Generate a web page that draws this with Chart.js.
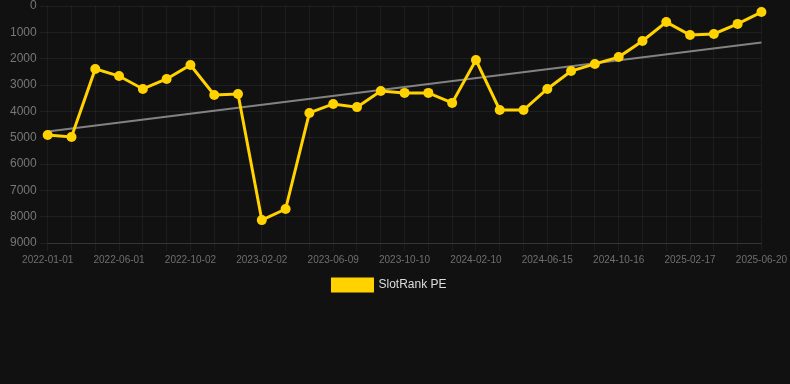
<!DOCTYPE html>
<html>
<head>
<meta charset="utf-8">
<script src="https://cdn.jsdelivr.net/npm/chart.js@4"></script>
<style>
  html, body { margin: 0; padding: 0; background: #111111; }
  #wrap { position: relative; width: 790px; height: 301px; }
</style>
</head>
<body>
<div id="wrap"><canvas id="rankChart"></canvas></div>
<script>
// dates (only every 3rd one is shown on the axis)
var dates = ['2022-01-01', '2022-02-20', '2022-04-11', '2022-06-01', '2022-07-12', '2022-08-22',
  '2022-10-02', '2022-11-12', '2022-12-23', '2023-02-02', '2023-03-15', '2023-04-26',
  '2023-06-09', '2023-07-20', '2023-08-30', '2023-10-10', '2023-11-20', '2023-12-31',
  '2024-02-10', '2024-03-22', '2024-05-04', '2024-06-15', '2024-07-26', '2024-09-05',
  '2024-10-16', '2024-11-26', '2025-01-07', '2025-02-17', '2025-03-30', '2025-05-10', '2025-06-20'];

var rank = [4900, 4975, 2390, 2660, 3150, 2770, 2240, 3380, 3340, 8130, 7710, 4060,
  3720, 3840, 3230, 3300, 3300, 3680, 2050, 3950, 3950, 3150, 2470, 2200,
  1940, 1330, 610, 1100, 1060, 680, 230];

// trend line: start and end values
var trendStart = 4770;
var trendEnd = 1390;

var trend = dates.map(function (d, i) {
  if (i === 0) return trendStart;
  if (i === dates.length - 1) return trendEnd;
  return null;
});

var yTicks = { min: 0, max: 9000, step: 1000 };

Chart.defaults.font.family = 'Arial, "Liberation Sans", sans-serif';

var ctx = document.getElementById('rankChart').getContext('2d');
var rankChart = new Chart(ctx, {
  type: 'line',
  data: {
    labels: dates,
    datasets: [{
      label: 'SlotRank PE',
      data: rank,
      borderColor: '#FFD200',
      backgroundColor: '#FFD200',
      borderWidth: 3,
      pointRadius: 5,
      pointHoverRadius: 6,
      pointBackgroundColor: '#FFD200',
      pointBorderWidth: 0,
      tension: 0
    }, {
      label: 'trend',
      data: trend,
      spanGaps: true,
      borderColor: 'rgba(150,150,150,0.85)',
      borderWidth: 2,
      pointRadius: 0,
      fill: false
    }]
  },
  options: {
    responsive: true,
    maintainAspectRatio: false,
    animation: false,
    layout: { padding: { top: 0, left: 7, right: 18, bottom: 0 } },
    scales: {
      x: {
        grid: { color: 'rgba(255,255,255,0.05)' },
        border: { color: 'rgba(255,255,255,0.1)' },
        ticks: {
          color: '#6f6f6f',
          font: { size: 10 },
          maxRotation: 0,
          autoSkip: false,
          callback: function (val, idx) {
            return idx % 3 === 0 ? this.getLabelForValue(val) : '';
          }
        }
      },
      y: {
        reverse: true,
        min: yTicks.min,
        max: yTicks.max,
        grid: { color: 'rgba(255,255,255,0.06)' },
        border: { display: false },
        ticks: {
          stepSize: yTicks.step,
          color: '#777777',
          font: { size: 12, lineHeight: 0.5 },
          callback: function (val) { return String(val); }
        }
      }
    },
    plugins: {
      legend: {
        display: true,
        position: 'bottom',
        labels: {
          color: '#dddddd',
          font: { size: 12 },
          boxWidth: 40,
          boxHeight: 12,
          filter: function (item) { return item.datasetIndex === 0; }
        }
      },
      tooltip: { enabled: false }
    }
  }
});
</script>
</body>
</html>
